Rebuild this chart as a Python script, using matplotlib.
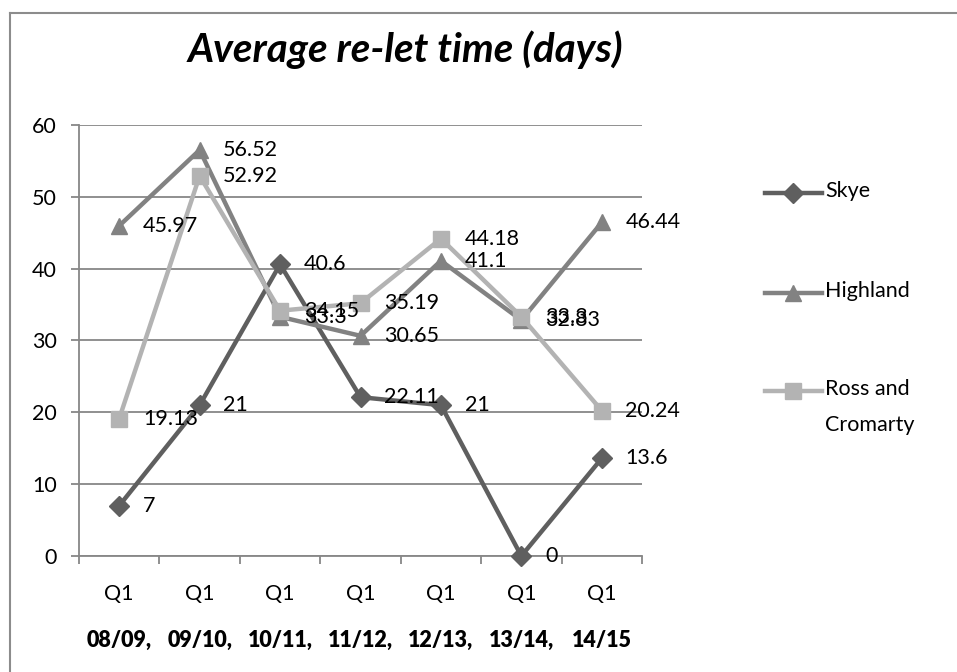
#!/usr/bin/env python3
"""
Average re-let time (days) - line chart with data labels
"""

import matplotlib
matplotlib.use('Agg')
import matplotlib.pyplot as plt
from matplotlib.lines import Line2D

plt.rcParams['font.family'] = ['Lato', 'DejaVu Sans']

# Data
quarters = ['Q1', 'Q1', 'Q1', 'Q1', 'Q1', 'Q1', 'Q1']
years = ['08/09,', '09/10,', '10/11,', '11/12,', '12/13,', '13/14,', '14/15']
skye = [7, 21, 40.6, 22.11, 21, 0, 13.6]
highland = [45.97, 56.52, 33.3, 30.65, 41.1, 32.83, 46.44]
ross = [19.13, 52.92, 34.15, 35.19, 44.18, 33.3, 20.24]
series_names = ['Skye', 'Highland', 'Ross and\nCromarty']

W, H = 957, 672
fig = plt.figure(figsize=(W / 100, H / 100), dpi=100)
ax = fig.add_axes([79 / W, 1 - 556 / H, (642 - 79) / W, (556 - 125) / H])

grid_c = '#878787'
fs = 15.5
styles = [
    dict(color='#5f5f5f', marker='D', ms=10.5),
    dict(color='#828282', marker='^', ms=12),
    dict(color='#b3b3b3', marker='s', ms=11),
]

x = list(range(len(quarters)))
for vals, st in zip([skye, highland, ross], styles):
    ax.plot(x, vals, color=st['color'], lw=3.2, marker=st['marker'],
            ms=st['ms'], mec=st['color'], mfc=st['color'], clip_on=False, zorder=3)
    for xi, v in zip(x, vals):
        ax.annotate(f'{v:g}', (xi, v), xytext=(17, 0), textcoords='offset points',
                    ha='left', va='center', fontsize=fs, color='black', zorder=5)

# Axes styling
ax.set_xlim(-0.5, len(quarters) - 0.5)
ax.set_ylim(0, 60)
ax.set_yticks(range(0, 61, 10))
ax.yaxis.grid(True, color=grid_c, lw=1.3)
ax.set_axisbelow(True)
for s in ['top', 'right']:
    ax.spines[s].set_visible(False)
for s in ['left', 'bottom']:
    ax.spines[s].set_color(grid_c)
    ax.spines[s].set_linewidth(1.3)
ax.tick_params(axis='y', length=6, color=grid_c, width=1.3, labelsize=fs, pad=10)
ax.set_xticks([i - 0.5 for i in range(len(quarters) + 1)], minor=False)
ax.set_xticklabels([])
ax.tick_params(axis='x', length=6, color=grid_c, width=1.3)
ax.set_xticks(x, minor=True)
ax.set_xticklabels(quarters, minor=True)
ax.tick_params(axis='x', which='minor', length=0, labelsize=fs, pad=20)

for xi, yr in zip(x, years):
    ax.text(xi, -0.195, yr, transform=ax.get_xaxis_transform(), ha='center', va='center',
            fontsize=fs, fontweight='heavy')

# Title
fig.text(405 / W, 1 - 50 / H, 'Average re-let time (days)', ha='center', va='center',
         fontsize=29, fontweight='bold', style='italic')

# Legend drawn by hand
leg_y = [193, 293, 391]
for name, st, ly in zip(series_names, styles, leg_y):
    yf = 1 - ly / H
    fig.add_artist(Line2D([765 / W, 822 / W], [yf, yf], color=st['color'], lw=3.2,
                          transform=fig.transFigure))
    fig.add_artist(Line2D([793 / W], [yf], color=st['color'], marker=st['marker'],
                          ms=st['ms'], transform=fig.transFigure))
    fig.text(825 / W, yf + 12 / H, name, ha='left', va='top', fontsize=fs,
             linespacing=2.0)

# Chart frame (top and left edges)
fig.add_artist(Line2D([10 / W, 1], [1 - 13 / H, 1 - 13 / H], color='#8c8c8c', lw=1.5,
                      transform=fig.transFigure))
fig.add_artist(Line2D([10 / W, 10 / W], [1 - 13 / H, 0], color='#8c8c8c', lw=1.5,
                      transform=fig.transFigure))

fig.savefig('out.png', dpi=100)
